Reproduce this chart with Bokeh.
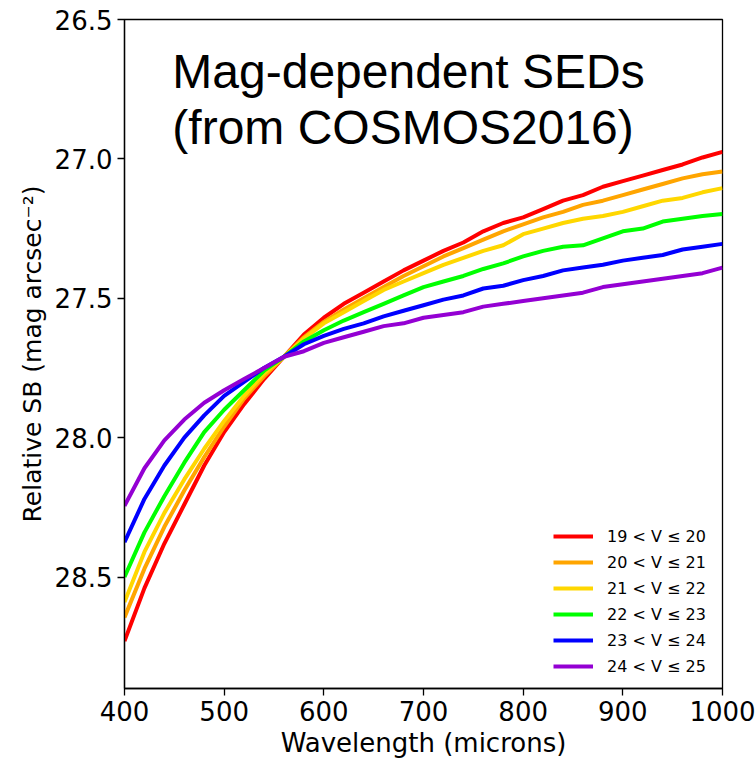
from bokeh.plotting import figure
from bokeh.models import Range1d, FixedTicker, Legend, LegendItem, Label
from bokeh.embed import file_html
from bokeh.resources import INLINE

# Wavelength grid (microns, as labelled on the axis)
wavelength = [400, 420, 440, 460, 480, 500, 520, 540, 560, 580, 600, 620, 640,
              660, 680, 700, 720, 740, 760, 780, 800, 820, 840, 860, 880, 900,
              920, 940, 960, 980, 1000]

# Relative surface brightness (mag arcsec^-2) per magnitude bin
sb_19_20 = [28.73, 28.54, 28.38, 28.24, 28.10, 27.98, 27.88, 27.79, 27.71,
            27.63, 27.57, 27.52, 27.48, 27.44, 27.40, 27.365, 27.33, 27.30,
            27.26, 27.23, 27.21, 27.18, 27.15, 27.13, 27.10, 27.08, 27.06,
            27.04, 27.02, 26.995, 26.975]
sb_20_21 = [28.645, 28.47, 28.32, 28.19, 28.07, 27.96, 27.86, 27.78, 27.71,
            27.64, 27.585, 27.54, 27.50, 27.46, 27.42, 27.385, 27.35, 27.32,
            27.29, 27.26, 27.235, 27.21, 27.19, 27.165, 27.15, 27.13, 27.11,
            27.09, 27.07, 27.055, 27.045]
sb_21_22 = [28.59, 28.41, 28.27, 28.15, 28.04, 27.94, 27.85, 27.77, 27.71,
            27.645, 27.59, 27.55, 27.51, 27.47, 27.44, 27.41, 27.38, 27.355,
            27.33, 27.31, 27.27, 27.25, 27.23, 27.215, 27.205, 27.19, 27.17,
            27.15, 27.14, 27.12, 27.105]
sb_22_23 = [28.50, 28.34, 28.21, 28.09, 27.98, 27.90, 27.83, 27.76, 27.71,
            27.655, 27.615, 27.58, 27.55, 27.52, 27.49, 27.46, 27.44, 27.42,
            27.395, 27.375, 27.35, 27.33, 27.315, 27.31, 27.285, 27.26, 27.25,
            27.225, 27.215, 27.205, 27.198]
sb_23_24 = [28.375, 28.22, 28.10, 28.00, 27.92, 27.85, 27.80, 27.75, 27.71,
            27.665, 27.635, 27.61, 27.59, 27.565, 27.545, 27.525, 27.505, 27.49,
            27.465, 27.455, 27.435, 27.42, 27.40, 27.39, 27.38, 27.365, 27.355,
            27.345, 27.325, 27.315, 27.305]
sb_24_25 = [28.245, 28.11, 28.01, 27.935, 27.875, 27.83, 27.79, 27.75, 27.71,
            27.69, 27.66, 27.64, 27.62, 27.60, 27.59, 27.57, 27.56, 27.55,
            27.53, 27.52, 27.51, 27.50, 27.49, 27.48, 27.46, 27.45, 27.44,
            27.43, 27.42, 27.41, 27.39]

series = [sb_19_20, sb_20_21, sb_21_22, sb_22_23, sb_23_24, sb_24_25]
labels = ["19 < V ≤ 20", "20 < V ≤ 21", "21 < V ≤ 22",
          "22 < V ≤ 23", "23 < V ≤ 24", "24 < V ≤ 25"]
colors = ["#ff0000", "#ffa500", "#ffd700", "#00ff00", "#0000ff", "#9400d3"]

x_ticks = [400, 500, 600, 700, 800, 900, 1000]
y_ticks = [26.5, 27.0, 27.5, 28.0, 28.5]

p = figure(width=756, height=760, output_backend="svg", toolbar_location=None,
           x_range=Range1d(400, 1000), y_range=Range1d(28.9, 26.5),
           min_border_left=124, min_border_right=34, min_border_top=19,
           min_border_bottom=68)
p.grid.visible = False
p.background_fill_color = "white"
p.border_fill_color = "white"
p.outline_line_color = "black"
p.outline_line_width = 1.3

items = []
for ys, lab, col in zip(series, labels, colors):
    r = p.line(wavelength, ys, line_color=col, line_width=4, line_join="round")
    items.append(LegendItem(label=lab, renderers=[r]))

for ax in (p.xaxis[0], p.yaxis[0]):
    ax.axis_line_color = "black"
    ax.axis_line_width = 1.3
    ax.major_tick_line_color = "black"
    ax.major_tick_line_width = 1.3
    ax.major_tick_out = 7
    ax.major_tick_in = 0
    ax.minor_tick_out = 0
    ax.minor_tick_in = 0
    ax.major_label_text_font = "DejaVu Sans"
    ax.major_label_text_font_size = "26px"
    ax.major_label_text_color = "black"
    ax.major_label_standoff = 5
    ax.axis_label_text_font = "DejaVu Sans"
    ax.axis_label_text_font_style = "normal"
    ax.axis_label_text_color = "black"

p.xaxis.ticker = FixedTicker(ticks=x_ticks)
p.yaxis.ticker = FixedTicker(ticks=y_ticks)
p.yaxis.major_label_overrides = {t: f"{t:.1f}" for t in y_ticks}
p.xaxis.axis_label = "Wavelength (microns)"
p.xaxis.axis_label_text_font_size = "26px"
p.xaxis.axis_label_standoff = 4
p.yaxis.axis_label = "Relative SB (mag arcsec⁻²)"
p.yaxis.axis_label_text_font_size = "25px"
p.yaxis.axis_label_standoff = 5

# Title text inside the plotting area
for txt, yb in [("Mag-dependent SEDs", 26.685), ("(from COSMOS2016)", 26.888)]:
    p.add_layout(Label(x=448, y=yb, text=txt, text_font="Liberation Sans",
                       text_font_size="48px", text_color="black",
                       text_align="left", text_baseline="alphabetic"))

legend = Legend(items=items, location=(429, 12), glyph_width=40,
                glyph_height=20, label_height=20, spacing=6, padding=0,
                margin=0, label_standoff=14, border_line_alpha=0,
                background_fill_alpha=0, label_text_font="DejaVu Sans",
                label_text_font_size="16px", label_text_color="black")
p.add_layout(legend)

open("out.html", "w").write(file_html(p, INLINE))
